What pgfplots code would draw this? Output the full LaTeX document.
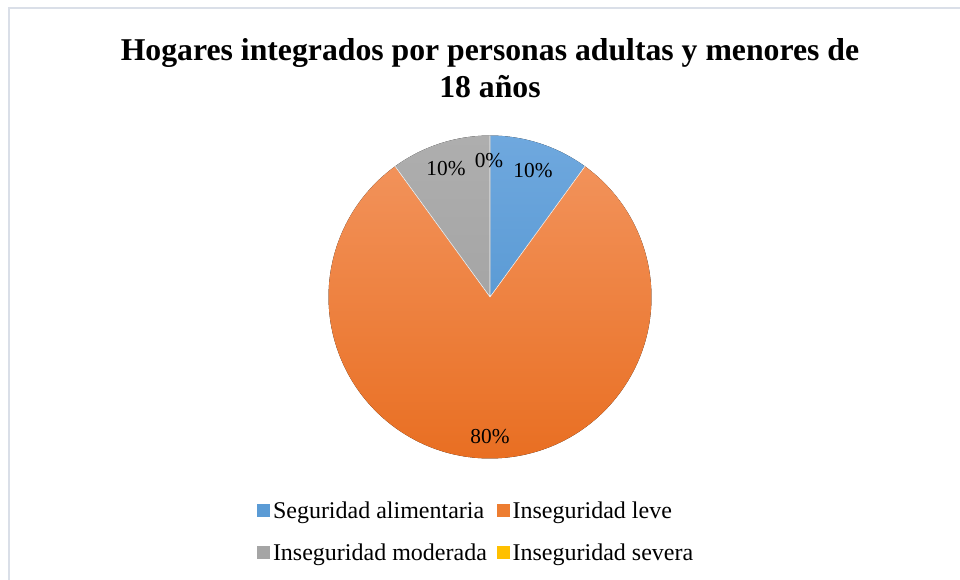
\documentclass[border=0pt]{standalone}
\usepackage{pgfplots}
\usepackage{pgfplotstable}
\pgfplotsset{compat=1.18}
\usepackage{fontspec}
\setmainfont{Liberation Serif}
\definecolor{cblue}{HTML}{5B9BD5}
\definecolor{cbluetop}{HTML}{6FA8DE}
\definecolor{corange}{HTML}{ED7D31}
\definecolor{corangetop}{HTML}{F2925A}
\definecolor{corangebot}{HTML}{E86C1E}
\definecolor{cgray}{HTML}{A5A5A5}
\definecolor{cgraytop}{HTML}{AEAEAE}
\definecolor{cyellow}{HTML}{FFC000}
\definecolor{cframe}{HTML}{DADFE8}

% shares (percent), clockwise from 12 o'clock
\pgfplotstableread{
name value
seguridad 10
leve 80
moderada 10
severa 0
}\piedata

\begin{document}
\begin{tikzpicture}
\begin{axis}[
  name=ax,
  scale only axis, width=720pt, height=435pt,
  xmin=0, xmax=960, ymin=0, ymax=580, y dir=reverse,
  hide axis, clip=false,
  legend columns=2, legend cell align=left,
  legend style={draw=none, fill=none, at={(axis cs:253,496)}, anchor=north west,
    font=\fontsize{18}{21}\selectfont, row sep=13.5pt,
    /tikz/every even column/.append style={column sep=5.5pt}},
  legend image code/.code={\fill[#1] (-2.3pt,-4.9pt) rectangle (7.5pt,4.9pt);},
]
% frame (only top and left edges visible in the reference)
\draw[cframe, line width=1pt] (axis cs:9,580) -- (axis cs:9,8) -- (axis cs:960,8);

% read values
\pgfplotstablegetelem{0}{value}\of\piedata \pgfmathsetmacro{\va}{\pgfplotsretval}
\pgfplotstablegetelem{1}{value}\of\piedata \pgfmathsetmacro{\vb}{\pgfplotsretval}
\pgfplotstablegetelem{2}{value}\of\piedata \pgfmathsetmacro{\vc}{\pgfplotsretval}
\pgfplotstablegetelem{3}{value}\of\piedata \pgfmathsetmacro{\vd}{\pgfplotsretval}
\pgfmathsetmacro{\aA}{90}
\pgfmathsetmacro{\aB}{90-3.6*\va}
\pgfmathsetmacro{\aC}{\aB-3.6*\vb}
\pgfmathsetmacro{\aD}{\aC-3.6*\vc}
\pgfmathsetmacro{\aE}{\aD-3.6*\vd}
\def\R{121.1pt}
\fill[top color=cbluetop, bottom color=cblue]
  (axis cs:490,297) -- ++(\aA:\R) arc[start angle=\aA, end angle=\aB, radius=\R] -- cycle;
\fill[top color=corangetop, bottom color=corangebot]
  (axis cs:490,297) -- ++(\aB:\R) arc[start angle=\aB, end angle=\aC, radius=\R] -- cycle;
\fill[top color=cgraytop, bottom color=cgray]
  (axis cs:490,297) -- ++(\aC:\R) arc[start angle=\aC, end angle=\aD, radius=\R] -- cycle;
\draw[white, line width=0.4pt] (axis cs:490,297) -- ++(\aA:\R)
  (axis cs:490,297) -- ++(\aB:\R) (axis cs:490,297) -- ++(\aC:\R);

% data labels
\node[font=\fontsize{16}{19}\selectfont] at (axis cs:533,171) {10\%};
\node[font=\fontsize{16}{19}\selectfont] at (axis cs:489,161) {0\%};
\node[font=\fontsize{16}{19}\selectfont] at (axis cs:446,169) {10\%};
\node[font=\fontsize{16}{19}\selectfont] at (axis cs:490,437) {80\%};

% title
\node[font=\bfseries\fontsize{23.8}{27.75}\selectfont, align=center] at (axis cs:490,68)
  {Hogares integrados por personas adultas y menores de\\18 años};

\addlegendimage{fill=cblue, draw=none}
\addlegendentry{Seguridad alimentaria}
\addlegendimage{fill=corange, draw=none}
\addlegendentry{Inseguridad leve}
\addlegendimage{fill=cgray, draw=none}
\addlegendentry{Inseguridad moderada}
\addlegendimage{fill=cyellow, draw=none}
\addlegendentry{Inseguridad severa}
\end{axis}
\pgfresetboundingbox
\useasboundingbox (ax.south west) rectangle (ax.north east);
\end{tikzpicture}
\end{document}
